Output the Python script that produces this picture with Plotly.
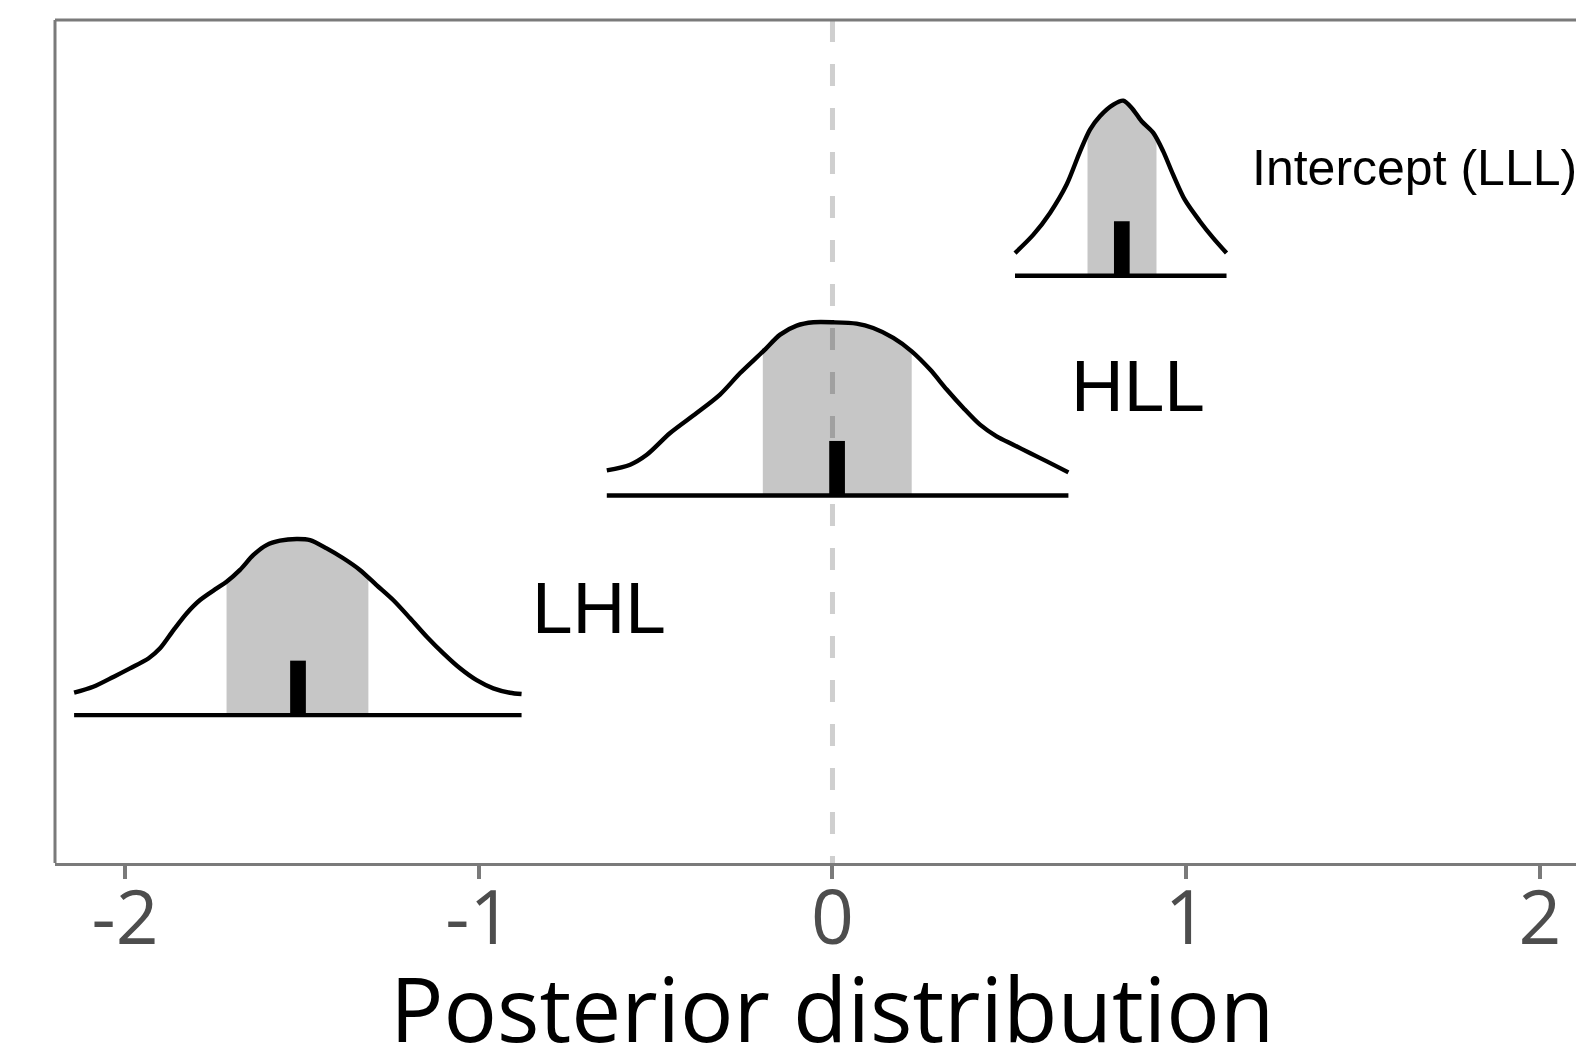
import numpy as np
import plotly.graph_objects as go

# ---- data ----
terms = ["LHL", "HLL", "Intercept (LLL)"]
rows = [1, 2, 3]

lhl_x = [-2.144, -2.090, -2.033, -1.986, -1.934, -1.901, -1.863, -1.826, -1.788, -1.741,
         -1.713, -1.675, -1.637, -1.600, -1.562, -1.515, -1.477, -1.430, -1.383, -1.336,
         -1.289, -1.242, -1.194, -1.147, -1.100, -1.053, -1.006, -0.959, -0.912, -0.879]
lhl_d = [0.102, 0.129, 0.174, 0.213, 0.258, 0.304, 0.387, 0.463, 0.524, 0.577,
         0.607, 0.661, 0.729, 0.774, 0.794, 0.802, 0.797, 0.759, 0.714, 0.661,
         0.592, 0.524, 0.441, 0.357, 0.281, 0.213, 0.159, 0.122, 0.102, 0.096]

hll_x = [-0.638, -0.572, -0.525, -0.459, -0.384, -0.318, -0.261, -0.196, -0.148, -0.101,
         -0.054, 0.002, 0.068, 0.115, 0.172, 0.224, 0.276, 0.323, 0.370, 0.417,
         0.464, 0.511, 0.558, 0.606, 0.667]
hll_d = [0.114, 0.140, 0.185, 0.284, 0.375, 0.459, 0.557, 0.656, 0.732, 0.773,
         0.788, 0.788, 0.782, 0.762, 0.717, 0.656, 0.573, 0.482, 0.398, 0.322,
         0.269, 0.231, 0.193, 0.155, 0.105]

int_x = [0.516, 0.568, 0.615, 0.662, 0.700, 0.728, 0.756, 0.794, 0.822, 0.846,
         0.874, 0.907, 0.935, 0.963, 0.996, 1.039, 1.076, 1.114]
int_d = [0.103, 0.187, 0.286, 0.415, 0.566, 0.665, 0.726, 0.779, 0.797, 0.764,
         0.703, 0.650, 0.566, 0.460, 0.346, 0.247, 0.172, 0.103]

ci_low = [-1.713, -0.197, 0.721]
ci_high = [-1.312, 0.224, 0.916]
medians = [-1.511, 0.013, 0.818]
median_mark_height = [0.248, 0.248, 0.248]
median_mark_width = [0.0444, 0.0444, 0.0444]

label_x = [-0.855, 0.669, 1.18]
label_y = [1.492, 2.499, 3.49]
label_size = [73, 73, 50]

tick_vals = [-2, -1, 0, 1, 2]
tick_text = ["-2", "-1", "0", "1", "2"]
ref_line_x = 0
x_title = "Posterior distribution"

curves_x = [lhl_x, hll_x, int_x]
curves_d = [lhl_d, hll_d, int_d]

# ---- figure ----
fig = go.Figure()

for cx, cd, r, lo, hi in zip(curves_x, curves_d, rows, ci_low, ci_high):
    cx = np.array(cx); cd = np.array(cd)
    inner = (cx > lo) & (cx < hi)
    px = np.concatenate([[lo], cx[inner], [hi]])
    py = np.concatenate([[np.interp(lo, cx, cd)], cd[inner], [np.interp(hi, cx, cd)]]) + r
    fx = np.concatenate([px, [hi, lo]])
    fy = np.concatenate([py, [r, r]])
    fig.add_trace(go.Scatter(x=fx, y=fy, fill="toself", fillcolor="rgba(0,0,0,0.224)",
                             line=dict(width=0), mode="lines", hoverinfo="skip",
                             showlegend=False))

fig.add_trace(go.Bar(x=medians, y=median_mark_height, base=rows, width=median_mark_width,
                     marker=dict(color="black", line=dict(width=0)), showlegend=False))

for cx, cd, r in zip(curves_x, curves_d, rows):
    fig.add_trace(go.Scatter(x=cx, y=np.array(cd) + r, mode="lines",
                             line=dict(color="black", width=4.4, shape="spline", smoothing=0.8),
                             showlegend=False, hoverinfo="skip"))
    fig.add_trace(go.Scatter(x=[min(cx), max(cx)], y=[r, r], mode="lines",
                             line=dict(color="black", width=4.4),
                             showlegend=False, hoverinfo="skip"))

for t, lx, ly, s in zip(terms, label_x, label_y, label_size):
    fig.add_annotation(x=lx, y=ly, text=t, showarrow=False, xanchor="left", yanchor="middle",
                       font=dict(family="Liberation Sans, Arial, sans-serif", size=s, color="black"))

# axis title, centred on x = 0 as in the reference
fig.add_annotation(x=ref_line_x, xref="x", y=-0.172, yref="paper", text=x_title, showarrow=False,
                   xanchor="center", yanchor="middle",
                   font=dict(family="Open Sans, sans-serif", size=89, color="black"))

border = "#7a7a7a"
# dashed reference line (under the fills)
fig.add_shape(type="line", xref="x", yref="paper", x0=ref_line_x, x1=ref_line_x, y0=1, y1=0,
              line=dict(color="#cfcfcf", width=5, dash="22px,22px"), layer="below")
# left and top frame
fig.add_shape(type="line", xref="paper", yref="paper", x0=0, x1=0, y0=0, y1=1,
              line=dict(color=border, width=3))
fig.add_shape(type="line", xref="paper", yref="paper", x0=0, x1=1, y0=1, y1=1,
              line=dict(color=border, width=3))

fig.update_layout(
    width=1576, height=1060,
    margin=dict(l=55, r=0, t=20, b=197),
    paper_bgcolor="white", plot_bgcolor="white",
    showlegend=False,
    xaxis=dict(range=[-2.198, 2.102], tickvals=tick_vals, ticktext=tick_text,
               automargin=False,
               showgrid=False, zeroline=False, showline=True, linecolor=border, linewidth=3,
               ticks="outside", ticklen=13, tickwidth=4, tickcolor=border,
               ticklabelstandoff=-25,
               tickfont=dict(family="Open Sans, sans-serif", size=75, color="#4d4d4d")),
    yaxis=dict(range=[0.327, 4.164], showgrid=False, zeroline=False, showticklabels=False,
               showline=False, ticks="", automargin=False),
)

fig.write_html("out.html", config={"displayModeBar": False},
               post_script="document.body.style.margin='0px';document.body.style.overflow='hidden';")
